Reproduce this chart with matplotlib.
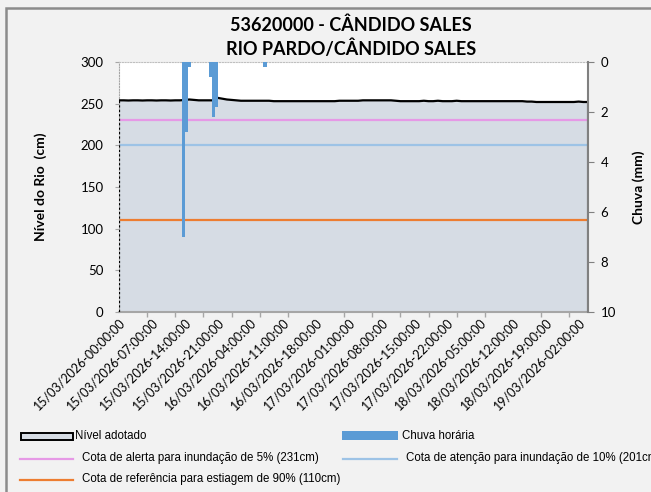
import matplotlib
matplotlib.use("Agg")
import matplotlib.pyplot as plt
from matplotlib.lines import Line2D
from matplotlib.patches import Rectangle

# ---------------- data ----------------
hours = list(range(0, 101))
level_cm = ([254.0, 254.0, 253.8, 254.0, 254.0, 253.8, 254.0, 254.0, 253.8, 254.0,
             254.0, 253.8, 254.0, 254.0, 254.5, 255.0, 254.5, 254.0, 254.0, 254.0,
             254.0, 257.0, 256.0, 255.0, 254.5, 254.0, 253.5, 253.5, 253.5, 253.5,
             253.5, 253.5, 253.5, 253.0, 253.0, 253.0, 253.0, 253.0, 253.0, 253.0,
             253.0, 253.0, 253.0, 253.0, 253.0, 253.0, 253.0, 253.5, 253.5, 253.5,
             253.5, 253.5, 254.0, 254.0, 254.0, 254.0, 254.0, 254.0, 254.0, 253.5,
             253.0, 253.0, 253.0, 253.0, 253.0, 253.5, 253.0, 253.0, 253.5, 253.0,
             253.0, 253.0, 253.5, 253.0, 253.0, 253.0, 253.0, 253.0, 253.0, 253.0,
             253.0, 253.0, 253.0, 253.0, 253.0, 253.0, 253.0, 252.5, 252.5, 252.0,
             252.0, 252.0, 252.0, 252.0, 252.0, 252.0, 252.0, 252.0, 252.5, 252.0,
             252.0])
rain_hours = [13.7, 14.4, 14.9, 19.5, 20.2, 20.7, 31.1]
rain_mm = [7.0, 2.8, 0.2, 0.6, 2.2, 1.8, 0.2]
alert_cm = 231
attention_cm = 201
drought_cm = 110
label_hours = list(range(0, 99, 7))
x_labels = ["15/03/2026-00:00:00", "15/03/2026-07:00:00", "15/03/2026-14:00:00",
            "15/03/2026-21:00:00", "16/03/2026-04:00:00", "16/03/2026-11:00:00",
            "16/03/2026-18:00:00", "17/03/2026-01:00:00", "17/03/2026-08:00:00",
            "17/03/2026-15:00:00", "17/03/2026-22:00:00", "18/03/2026-05:00:00",
            "18/03/2026-12:00:00", "18/03/2026-19:00:00", "19/03/2026-02:00:00"]
tick_hours = list(range(0, 97, 6))
title_lines = ["53620000 - CÂNDIDO SALES", "RIO PARDO/CÂNDIDO SALES"]
legend_labels = ["Nível adotado", "Chuva horária",
                 "Cota de alerta para inundação de 5% (231cm)",
                 "Cota de atenção para inundação de 10% (201cm)",
                 "Cota de referência para estiagem de 90% (110cm)"]

# ---------------- style ----------------
W, H = 651, 492
BG = "#F2F2F2"
AREA = "#D6DCE4"
BLUE = "#5B9BD5"
PINK = "#E699E6"
LBLUE = "#9DC3E6"
ORANGE = "#ED7D31"
FONT = ["Lato", "DejaVu Sans"]
LFONT = ["Liberation Sans", "DejaVu Sans"]

fig = plt.figure(figsize=(W / 100, H / 100), dpi=100, facecolor=BG)
fig.add_artist(Rectangle((6 / W, -0.1), 1.2, (1 - 8 / H) + 0.1, transform=fig.transFigure,
                         fill=False, edgecolor="#8C8C8C", linewidth=1.8))

L, R, T, B = 119, 588, 62, 312
ax = fig.add_axes([L / W, 1 - B / H, (R - L) / W, (B - T) / H])
ax.set_facecolor("white")

ax.fill_between(hours, 0, level_cm, color=AREA, linewidth=0, zorder=1)
ax.plot(hours, level_cm, color="black", linewidth=1.6, zorder=3)
ax.plot([hours[0], hours[0]], [0, level_cm[0]], color="black", linewidth=1.6,
        linestyle=(0, (1, 1)), zorder=3)
ax.plot([hours[-1], hours[-1]], [0, level_cm[-1]], color="black", linewidth=2.2, zorder=3)

ax.axhline(alert_cm, color=PINK, linewidth=1.6, zorder=2)
ax.axhline(attention_cm, color=LBLUE, linewidth=1.6, zorder=2)
ax.axhline(drought_cm, color=ORANGE, linewidth=1.6, zorder=2)

ax.set_xlim(0, 100)
ax.set_ylim(0, 300)
ax.set_yticks([0, 50, 100, 150, 200, 250, 300])
ax.tick_params(axis="y", length=3, color="#A6A6A6", labelsize=9.5, pad=8)
for lab in ax.get_yticklabels():
    lab.set_family(FONT)

ax.set_xticks(label_hours)
ax.set_xticklabels(x_labels, rotation=45, ha="right", va="top",
                   rotation_mode="anchor", fontsize=9.0, family=FONT)
ax.tick_params(axis="x", which="major", length=0, pad=3)
ax.set_xticks(tick_hours, minor=True)
ax.tick_params(axis="x", which="minor", length=3.5, color="#A6A6A6", width=1)

ax.spines["left"].set_linestyle((0, (1, 1.5)))
ax.spines["left"].set_color("#A6A6A6")
ax.spines["top"].set_linestyle((0, (1, 1.5)))
ax.spines["top"].set_color("#BFBFBF")
ax.spines["bottom"].set_color("#A6A6A6")
ax.spines["bottom"].set_linewidth(1.5)
ax.spines["right"].set_visible(False)

ax2 = ax.twinx()
ax2.bar(rain_hours, rain_mm, width=0.72, color=BLUE, linewidth=0, zorder=4)
ax2.set_ylim(10, 0)
ax2.set_yticks([0, 2, 4, 6, 8, 10])
ax2.tick_params(axis="y", length=4, color="#808080", labelsize=9.5, pad=5)
for lab in ax2.get_yticklabels():
    lab.set_family(FONT)
ax2.spines["right"].set_color("#808080")
ax2.spines["right"].set_linewidth(1.5)
for s in ["left", "top", "bottom"]:
    ax2.spines[s].set_visible(False)
ax2.patch.set_visible(False)
ax2.set_zorder(2)
ax.set_zorder(1)

# axis titles
fig.text(41 / W, 1 - 187 / H, "Nível do Rio  (cm)", rotation=90, ha="center", va="center",
         fontsize=10, fontweight="bold", family=FONT)
fig.text(639 / W, 1 - 187 / H, "Chuva (mm)", rotation=90, ha="center", va="center",
         fontsize=10, fontweight="bold", family=FONT)

# title
fig.text(351 / W, 1 - 25 / H, title_lines[0], ha="center", va="center",
         fontsize=13, fontweight="bold", family=FONT)
fig.text(351 / W, 1 - 49 / H, title_lines[1], ha="center", va="center",
         fontsize=13, fontweight="bold", family=FONT)

# legend (manual)
def fx(x):
    return x / W

def fy(y):
    return 1 - y / H

LS = 8.3
fig.add_artist(Rectangle((fx(21), fy(440)), 52 / W, 7 / H, transform=fig.transFigure,
                         facecolor=AREA, edgecolor="black", linewidth=1.4))
fig.text(fx(75), fy(436), legend_labels[0], fontsize=LS, family=LFONT, va="center")
fig.add_artist(Rectangle((fx(342), fy(440)), 56 / W, 9 / H, transform=fig.transFigure,
                         facecolor=BLUE, edgecolor="none"))
fig.text(fx(402), fy(436), legend_labels[1], fontsize=LS, family=LFONT, va="center")

fig.add_artist(Line2D([fx(20), fx(73)], [fy(459), fy(459)], color=PINK, linewidth=1.6,
                      transform=fig.transFigure))
fig.text(fx(82), fy(458), legend_labels[2], fontsize=LS, family=LFONT, va="center")
fig.add_artist(Line2D([fx(343), fx(397)], [fy(459), fy(459)], color=LBLUE, linewidth=1.6,
                      transform=fig.transFigure))
fig.text(fx(406), fy(458), legend_labels[3], fontsize=LS, family=LFONT, va="center")
fig.add_artist(Line2D([fx(20), fx(73)], [fy(480), fy(480)], color=ORANGE, linewidth=1.6,
                      transform=fig.transFigure))
fig.text(fx(82), fy(479), legend_labels[4], fontsize=LS, family=LFONT, va="center")

fig.savefig("out.png", dpi=100, facecolor=BG)
